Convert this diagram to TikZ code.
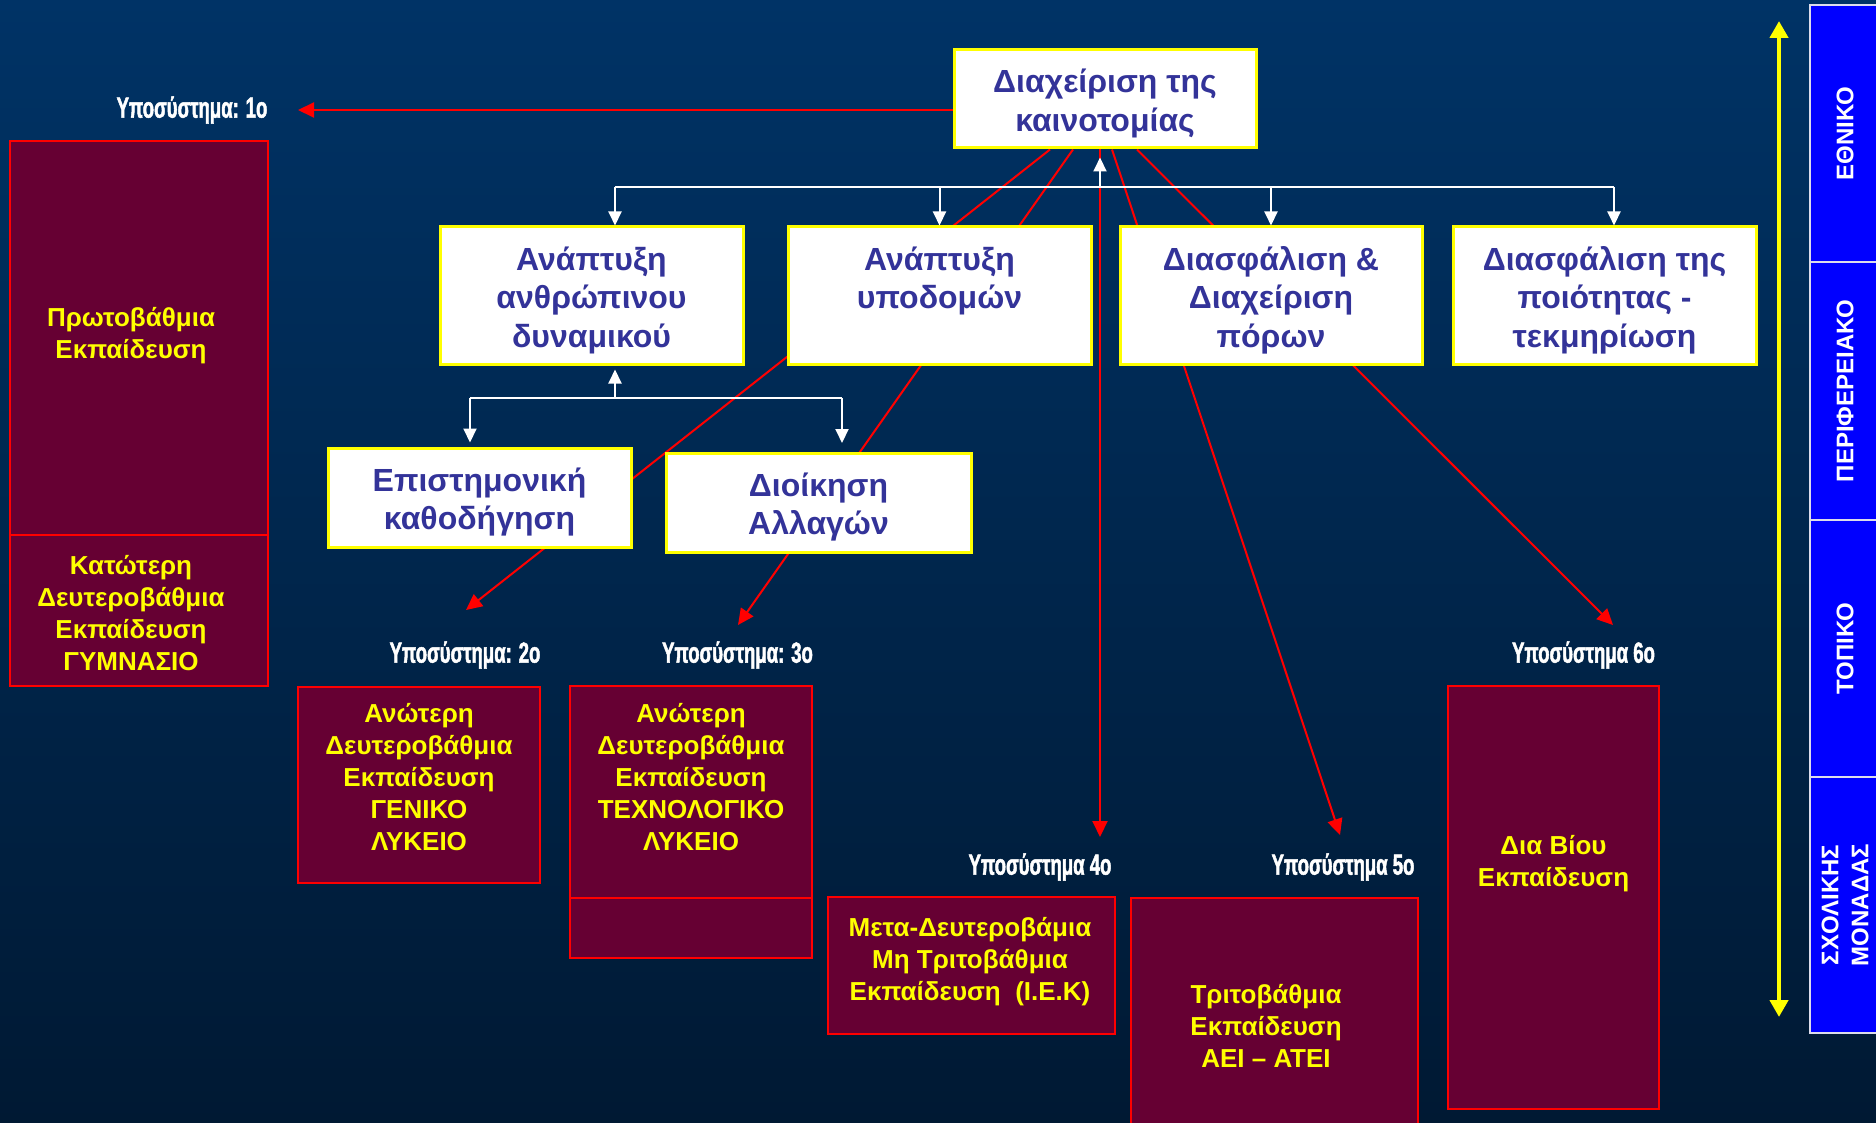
\documentclass[tikz,border=0pt]{standalone}
\usepackage{fontspec}
\setmainfont{Liberation Sans}
\newfontfamily\narrowfont[FakeStretch=0.64,FakeBold=1.6]{Liberation Sans}
\usetikzlibrary{arrows.meta,calc}
\definecolor{bgtop}{RGB}{0,51,102}
\definecolor{bgbot}{RGB}{0,25,51}
\definecolor{maroonfill}{RGB}{102,0,51}
\definecolor{indigotext}{RGB}{51,51,153}
\definecolor{barblue}{RGB}{0,0,255}
\definecolor{lred}{RGB}{255,0,0}
\definecolor{lyellow}{RGB}{255,255,0}
\definecolor{barline}{RGB}{220,220,235}
\begin{document}
\begin{tikzpicture}[x=1pt,y=-1pt,
  wbox/.style={draw=lyellow, line width=3pt, fill=white, inner sep=0pt},
  wtext/.style={text=indigotext, font=\bfseries\fontsize{32}{38.5}\selectfont, align=center, inner sep=0pt},
  mbox/.style={draw=lred, line width=2.5pt, fill=maroonfill, inner sep=0pt},
  ytext/.style={text=lyellow, font=\bfseries\fontsize{26}{32}\selectfont, align=center, inner sep=0pt},
  sublabel/.style={text=white, font=\narrowfont\bfseries\fontsize{29}{34}\selectfont, inner sep=0pt},
  bseg/.style={draw=barline, line width=1.5pt, fill=barblue, text=white,
    font=\bfseries\fontsize{24}{30}\selectfont, align=center, inner sep=0pt,
    rotate=90, minimum height=70pt},
  redarrow/.style={draw=lred, line width=2pt, -{Triangle[length=16pt,width=15pt]}},
  wline/.style={draw=white, line width=2pt},
  warrow/.style={wline, -{Triangle[length=14pt,width=13pt]}},
]
\clip (0,0) rectangle (1876,1123);
\shade[top color=bgtop, bottom color=bgbot] (0,0) rectangle (1876,1123);

% connector end points
\coordinate (t1) at (298,110);
\coordinate (t2) at (466,610);
\coordinate (t3) at (738,625);
\coordinate (t4) at (1100,837);
\coordinate (t5) at (1340,835);
\coordinate (t6) at (1613,625);
\coordinate (hub) at (1100,187);
\coordinate (h1) at (615,187);
\coordinate (h4) at (1614,187);
\coordinate (g) at (615,398);
\coordinate (g1) at (470,398);
\coordinate (g2) at (842,398);
\coordinate (ya) at (1779,21);
\coordinate (yb) at (1779,1017);

% outline of the top box, used as the origin of the red lines
\path (1105,99) node[minimum width=302pt, minimum height=98pt, inner sep=0pt, line width=3pt] (topref) {};

% ---- red arrows (behind boxes) ----
\draw[redarrow] ([yshift=-11pt]topref.west) -- (t1);
\draw[redarrow] ([xshift=-55pt]topref.south) -- (t2);
\draw[redarrow] ([xshift=-32pt]topref.south) -- (t3);
\draw[redarrow] ([xshift=-5pt]topref.south) -- (t4);
\draw[redarrow] ([xshift=7pt]topref.south) -- (t5);
\draw[redarrow] ([xshift=32pt]topref.south) -- (t6);

% ---- white boxes ----
\node[wbox, minimum width=302pt, minimum height=98pt] (top) at (1105,99) {};
\node[wbox, minimum width=303pt, minimum height=137pt] (b1) at (591.5,295.5) {};
\node[wbox, minimum width=303pt, minimum height=137pt] (b2) at (939.5,295.5) {};
\node[wbox, minimum width=302pt, minimum height=137pt] (b3) at (1271,295.5) {};
\node[wbox, minimum width=303pt, minimum height=137pt] (b4) at (1604.5,295.5) {};
\node[wbox, minimum width=303pt, minimum height=99pt] (ep) at (479.5,497.5) {};
\node[wbox, minimum width=305pt, minimum height=99pt] (di) at (818.5,502.5) {};

\node[wtext] (topT) at (1105,103.5) {Διαχείριση της\\καινοτομίας};
\node[wtext] (b1T) at (591.5,300) {Ανάπτυξη\\ανθρώπινου\\δυναμικού};
\node[wtext] (b2T) at (939.5,280.75) {Ανάπτυξη\\υποδομών};
\node[wtext] (b3T) at (1271,300) {Διασφάλιση \&\\Διαχείριση\\πόρων};
\node[wtext] (b4T) at (1604.5,300) {Διασφάλιση της\\ποιότητας -\\τεκμηρίωση};
\node[wtext] (epT) at (479.5,502) {Επιστημονική\\καθοδήγηση};
\node[wtext] (diT) at (818.5,507) {Διοίκηση\\Αλλαγών};

% ---- white connectors ----
\draw[wline] (h1) -- (h4);
\draw[warrow] (hub) -- ([yshift=-8pt]top.south -| hub);
\draw[warrow] (h1) -- (h1 |- b1.north);
\draw[warrow] (hub -| b2.north) -- (b2.north);
\draw[warrow] (hub -| b3.north) -- (b3.north);
\draw[warrow] (h4) -- (h4 |- b4.north);
\draw[warrow] (g) -- ([yshift=-4pt]b1.south -| g);
\draw[wline] (g1) -- (g2);
\draw[warrow] (g1) -- ([yshift=4pt]ep.north -| g1);
\draw[warrow] (g2) -- ([yshift=8.5pt]di.north -| g2);

% ---- maroon boxes ----
\node[mbox, minimum width=258pt, minimum height=394pt] (prim) at (139,338) {};
\node[mbox, minimum width=258pt, minimum height=151pt] (gym) at (139,610.5) {};
\node[mbox, minimum width=242pt, minimum height=196pt] (gen) at (419,785) {};
\node[mbox, minimum width=242pt, minimum height=212pt] (tech) at (691,792) {};
\node[mbox, minimum width=242pt, minimum height=60pt] (tech2) at (691,928) {};
\node[mbox, minimum width=287pt, minimum height=137pt] (iek) at (971.5,965.5) {};
\node[mbox, minimum width=287pt, minimum height=256pt] (aei) at (1274.5,1026) {};
\node[mbox, minimum width=211pt, minimum height=423pt] (dia) at (1553.5,897.5) {};

\node[ytext] (primT) at (131,336) {Πρωτοβάθμια\\Εκπαίδευση};
\node[ytext] (gymT) at (131,613) {Κατώτερη\\Δευτεροβάθμια\\Εκπαίδευση\\ΓΥΜΝΑΣΙΟ};
\node[ytext] (genT) at (419,777) {Ανώτερη\\Δευτεροβάθμια\\Εκπαίδευση\\ΓΕΝΙΚΟ\\ΛΥΚΕΙΟ};
\node[ytext] (techT) at (691,777) {Ανώτερη\\Δευτεροβάθμια\\Εκπαίδευση\\ΤΕΧΝΟΛΟΓΙΚΟ\\ΛΥΚΕΙΟ};
\node[ytext] (iekT) at (970,962) {Μετα-Δευτεροβάμια\\Μη Τριτοβάθμια\\Εκπαίδευση\ \ (Ι.Ε.Κ)};
\node[ytext] (aeiT) at (1266,1026) {Τριτοβάθμια\\Εκπαίδευση\\ΑΕΙ – ΑΤΕΙ};
\node[ytext] (diaT) at (1553.5,864) {Δια Βίου\\Εκπαίδευση};

% ---- subsystem labels ----
\node[sublabel] (s1) at (192,110) {Υποσύστημα: 1ο};
\node[sublabel] (s2) at (465,655) {Υποσύστημα: 2ο};
\node[sublabel] (s3) at (737.5,655) {Υποσύστημα: 3ο};
\node[sublabel] (s4) at (1040,867) {Υποσύστημα 4ο};
\node[sublabel] (s5) at (1343,867) {Υποσύστημα 5ο};
\node[sublabel] (s6) at (1583.5,655) {Υποσύστημα 6ο};

% ---- yellow double arrow ----
\draw[lyellow, line width=4.5pt, {Triangle[length=17pt,width=18pt]}-{Triangle[length=17pt,width=18pt]}] (ya) -- (yb);

% ---- level bar ----
\node[bseg, minimum width=257pt] (n1) at (1845,133.5) {ΕΘΝΙΚΟ};
\node[bseg, minimum width=258pt] (n2) at (1845,391) {ΠΕΡΙΦΕΡΕΙΑΚΟ};
\node[bseg, minimum width=257pt] (n3) at (1845,648.5) {ΤΟΠΙΚΟ};
\node[bseg, minimum width=256pt] (n4) at (1845,905) {ΣΧΟΛΙΚΗΣ\\ΜΟΝΑΔΑΣ};
\end{tikzpicture}
\end{document}
